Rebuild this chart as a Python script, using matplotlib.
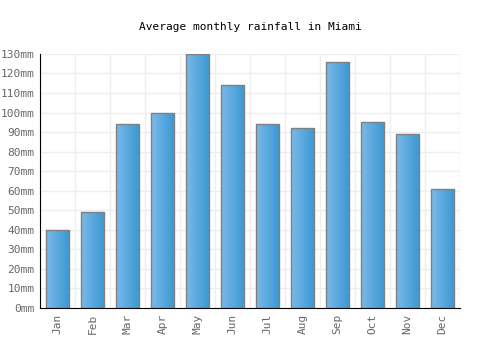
import numpy as np
import matplotlib.pyplot as plt
from matplotlib.colors import LinearSegmentedColormap

months = ['Jan', 'Feb', 'Mar', 'Apr', 'May', 'Jun', 'Jul', 'Aug', 'Sep', 'Oct', 'Nov', 'Dec']
rainfall = [40, 49, 94, 100, 130, 114, 94, 92, 126, 95, 89, 61]
yticks = list(range(0, 140, 10))
ytick_labels = ['%dmm' % v for v in yticks]

plt.rcParams['font.family'] = 'DejaVu Sans Mono'

fig = plt.figure(figsize=(5, 3.5), dpi=100)
ax = fig.add_axes([0.08, 0.12, 0.84, 0.726])

x = np.arange(len(months))
bars = ax.bar(x, rainfall, width=0.66, color='none', edgecolor='#808080', linewidth=1, zorder=3)

cmap = LinearSegmentedColormap.from_list('blu', ['#7ab9ea', '#3a98d2'])
grad = np.linspace(0, 1, 64).reshape(1, -1)
for b in bars:
    x0, y0 = b.get_x(), b.get_y()
    im = ax.imshow(grad, cmap=cmap, aspect='auto', zorder=2,
                   extent=(x0, x0 + b.get_width(), y0, y0 + b.get_height()))
    im.set_clip_path(b)

ax.set_xlim(-0.5, len(months) - 0.5)
ax.set_ylim(0, 130)
ax.set_xticks(x)
ax.set_xticklabels(months, rotation=90, color='#666666', fontsize=8)
ax.set_yticks(yticks)
ax.set_yticklabels(ytick_labels, color='#666666', fontsize=8)
ax.set_xticks(np.arange(-0.5, len(months)), minor=True)
ax.grid(which='minor', axis='x', color='#eeeeee', linewidth=1)
ax.grid(which='major', axis='y', color='#eeeeee', linewidth=1)
ax.tick_params(axis='both', which='both', length=0, pad=4)
ax.set_axisbelow(True)
for s in ['top', 'right']:
    ax.spines[s].set_visible(False)
for s in ['left', 'bottom']:
    ax.spines[s].set_color('black')
    ax.spines[s].set_zorder(4)

fig.text(0.5, 0.922, 'Average monthly rainfall in Miami', ha='center', va='center', fontsize=8, color='black')

fig.savefig('out.png', dpi=100)
